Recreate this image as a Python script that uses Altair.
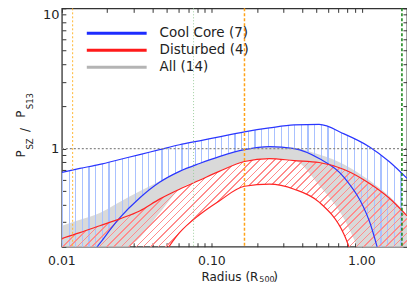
import math
import altair as alt
import pandas as pd

# ---------------- data ----------------
radius = [0.0100, 0.0132, 0.0179, 0.0243, 0.0330, 0.0448, 0.0609, 0.0827, 0.112,
          0.165, 0.242, 0.354, 0.519, 0.761, 1.12, 1.52, 2.00]
cc_upper = [0.678, 0.723, 0.772, 0.837, 0.907, 0.984, 1.067, 1.138, 1.215,
            1.317, 1.405, 1.476, 1.488, 1.275, 1.033, 0.810, 0.615]
cc_lower = [0.091, 0.136, 0.211, 0.321, 0.445, 0.576, 0.689, 0.784, 0.878,
            0.984, 1.033, 1.000, 0.850, 0.625, 0.306, 0.098, 0.044]
dist_upper = [0.229, 0.252, 0.282, 0.316, 0.360, 0.437, 0.514, 0.595, 0.689,
              0.810, 0.850, 0.823, 0.797, 0.711, 0.567, 0.445, 0.332]
dist_lower = [0.017, 0.027, 0.044, 0.066, 0.098, 0.160, 0.252, 0.338, 0.424,
              0.540, 0.558, 0.514, 0.416, 0.245, 0.071, 0.032, 0.017]
all_upper = [0.282, 0.311, 0.348, 0.417, 0.498, 0.586, 0.689, 0.784, 0.878,
             0.984, 1.033, 1.016, 0.907, 0.772, 0.595, 0.459, 0.338]
all_lower = [0.126, 0.141, 0.155, 0.182, 0.232, 0.348, 0.514, 0.595, 0.689,
             0.810, 0.850, 0.823, 0.549, 0.316, 0.126, 0.060, 0.032]

vline_x = [0.0118, 0.0755, 0.165, 1.85]
vline_color = ["#ffb733", "#9fcf9f", "#ffa31a", "#1f8a1f"]
vline_dash = [[2, 2], [1, 2], [3, 2], [3, 2]]
vline_width = [1.0, 1.0, 1.5, 1.6]

legend_labels = ["Cool Core (7)", "Disturbed (4)", "All (14)"]
legend_colors = ["#1d2cff", "#ff1a1a", "#b4b4b4"]

x_tick_values = [0.01, 0.02, 0.03, 0.04, 0.05, 0.06, 0.07, 0.08, 0.09,
                 0.1, 0.2, 0.3, 0.4, 0.5, 0.6, 0.7, 0.8, 0.9, 1.0, 2.0]
x_label_values = [0.01, 0.1, 1.0]
x_labels = ["0.01", "0.10", "1.00"]
y_tick_values = [0.2, 0.3, 0.4, 0.5, 0.6, 0.7, 0.8, 0.9,
                 1, 2, 3, 4, 5, 6, 7, 8, 9, 10]
y_label_values = [1, 10]
y_labels = ["1", "10"]

X_DOMAIN = [0.01, 2.0]
Y_DOMAIN = [0.2, 10]
W, H = 346, 239
FONT = "DejaVu Sans"
TXT = "#222222"

# ---------------- hatch gradients ----------------
def stripes(n, frac, color):
    stops = []
    for i in range(n):
        a = i / n
        b = (i + frac) / n
        c = (i + 1) / n
        stops += [alt.GradientStop(color=color, offset=a),
                  alt.GradientStop(color=color, offset=b),
                  alt.GradientStop(color="rgba(255,255,255,0)", offset=b),
                  alt.GradientStop(color="rgba(255,255,255,0)", offset=c)]
    return stops

blue_grad = alt.LinearGradient(gradient="linear", x1=0, y1=0, x2=1, y2=0,
                               stops=stripes(52, 0.18, "#a9c1ff"))

ylog = math.log10(Y_DOMAIN[1] / Y_DOMAIN[0])
red_h = H * math.log10(max(dist_upper) / min(dist_lower)) / ylog
ratio = red_h / W
p, q = 1.7, 1.7 * ratio
red_len = (p * W + q * red_h) / math.sqrt(2)
red_grad = alt.LinearGradient(gradient="linear", x1=0, y1=0, x2=p, y2=q,
                              stops=stripes(int(red_len / 5.2), 0.22, "#ff8c8c"))

# ---------------- tables ----------------
df = pd.DataFrame({"r": radius, "cc_u": cc_upper, "cc_l": cc_lower,
                   "d_u": dist_upper, "d_l": dist_lower,
                   "a_u": all_upper, "a_l": all_lower})
series = ["cc_u", "cc_l", "d_u", "d_l"]
series_col = ["#2a36ff", "#2a36ff", "#ff2424", "#ff2424"]
long = df.melt(id_vars="r", value_vars=series, var_name="s", value_name="v")
xlab_df = pd.DataFrame({"r": x_label_values, "t": x_labels})

xs = alt.Scale(type="log", domain=X_DOMAIN, nice=False)
ys = alt.Scale(type="log", domain=Y_DOMAIN, nice=False)


def lab_expr(vals, labs):
    e = "''"
    for v, l in reversed(list(zip(vals, labs))):
        e = f"abs(datum.value - {v}) < {v * 1e-6} ? '{l}' : ({e})"
    return e


common = dict(domain=False, grid=False, tickSize=4, offset=-4, tickColor="#333333",
              tickWidth=1, labelOverlap=False, title=None)
bottom_axis = alt.Axis(orient="bottom", values=x_tick_values, labels=False, **common)
top_axis = alt.Axis(orient="top", values=x_tick_values, labels=False, **common)
left_axis = alt.Axis(orient="left", values=y_tick_values,
                     labelExpr=lab_expr(y_label_values, y_labels),
                     labelFont=FONT, labelFontSize=13, labelColor=TXT,
                     labelPadding=3, labelFlush=True, **common)
right_axis = alt.Axis(orient="right", values=y_tick_values, labels=False, **common)

layers = []
layers.append(alt.Chart(df).mark_area(fill="#d9d9d9", clip=True, interpolate="monotone").encode(
    x=alt.X("r:Q", scale=xs, axis=bottom_axis),
    y=alt.Y("a_u:Q", scale=ys, axis=left_axis),
    y2="a_l:Q"))
layers.append(alt.Chart(df).mark_area(fill=blue_grad, clip=True, interpolate="monotone").encode(
    x=alt.X("r:Q", scale=xs, axis=None),
    y=alt.Y("cc_u:Q", scale=ys, axis=None),
    y2="cc_l:Q"))
layers.append(alt.Chart(df).mark_area(fill=red_grad, clip=True, interpolate="monotone").encode(
    x=alt.X("r:Q", scale=xs, axis=None),
    y=alt.Y("d_u:Q", scale=ys, axis=None),
    y2="d_l:Q"))
layers.append(alt.Chart(long).mark_line(clip=True, interpolate="monotone", strokeWidth=1.2).encode(
    x=alt.X("r:Q", scale=xs, axis=None),
    y=alt.Y("v:Q", scale=ys, axis=None),
    color=alt.Color("s:N", scale=alt.Scale(domain=series, range=series_col), legend=None),
    detail="s:N"))

for i, vx in enumerate(vline_x):
    layers.append(alt.Chart(pd.DataFrame({"r": [vx]})).mark_rule(
        color=vline_color[i], strokeDash=vline_dash[i], strokeWidth=vline_width[i]).encode(
        x=alt.X("r:Q", scale=xs, axis=top_axis if i == 0 else None)))

layers.append(alt.Chart(pd.DataFrame({"v": [1.0]})).mark_rule(
    color="#8a8a8a", strokeDash=[2, 2], strokeWidth=1.2).encode(
    y=alt.Y("v:Q", scale=ys, axis=right_axis)))

# x tick labels placed through the x scale
layers.append(alt.Chart(xlab_df).mark_text(align="center", baseline="middle", font=FONT,
                                           fontSize=12.5, color=TXT).encode(
    x=alt.X("r:Q", scale=xs, axis=None), y=alt.value(H + 14), text="t:N"))

one = pd.DataFrame({"a": [0]})
for i, (lab, col) in enumerate(zip(legend_labels, legend_colors)):
    yy = 25 + 17 * i
    layers.append(alt.Chart(one).mark_rule(color=col, strokeWidth=3).encode(
        x=alt.value(25), x2=alt.value(85), y=alt.value(yy)))
    layers.append(alt.Chart(one).mark_text(text=lab, align="left", baseline="middle",
                                           font=FONT, fontSize=13.5, color=TXT).encode(
        x=alt.value(98), y=alt.value(yy)))

# axis titles with subscripts
ytitle = [("P", 12, -40.5, 146), ("SZ", 8.5, -31.5, 136), ("/", 12, -37, 122),
          ("P", 12, -40.5, 106), ("S13", 8.5, -31.5, 93)]
for t, fs, xx, yy in ytitle:
    layers.append(alt.Chart(one).mark_text(text=t, angle=270, align="center", baseline="middle",
                                           font=FONT, fontSize=fs, color=TXT).encode(
        x=alt.value(xx), y=alt.value(yy)))

xtitle = [("Radius (R", 12, 197, 269, "right"), ("500", 8, 198, 272, "left"),
          (")", 12, 212, 269, "left")]
for t, fs, xx, yy, al in xtitle:
    layers.append(alt.Chart(one).mark_text(text=t, align=al, baseline="middle",
                                           font=FONT, fontSize=fs, color=TXT).encode(
        x=alt.value(xx), y=alt.value(yy)))

chart = alt.layer(*layers).resolve_axis(x="independent", y="independent").properties(
    width=W, height=H,
    autosize=alt.AutoSizeParams(type="none"),
    padding={"left": 54, "top": 0, "right": 0, "bottom": 37},
).configure_view(stroke="#333333", strokeWidth=1.3)

chart.save("out.html", embed_options={"renderer": "svg", "actions": False})
